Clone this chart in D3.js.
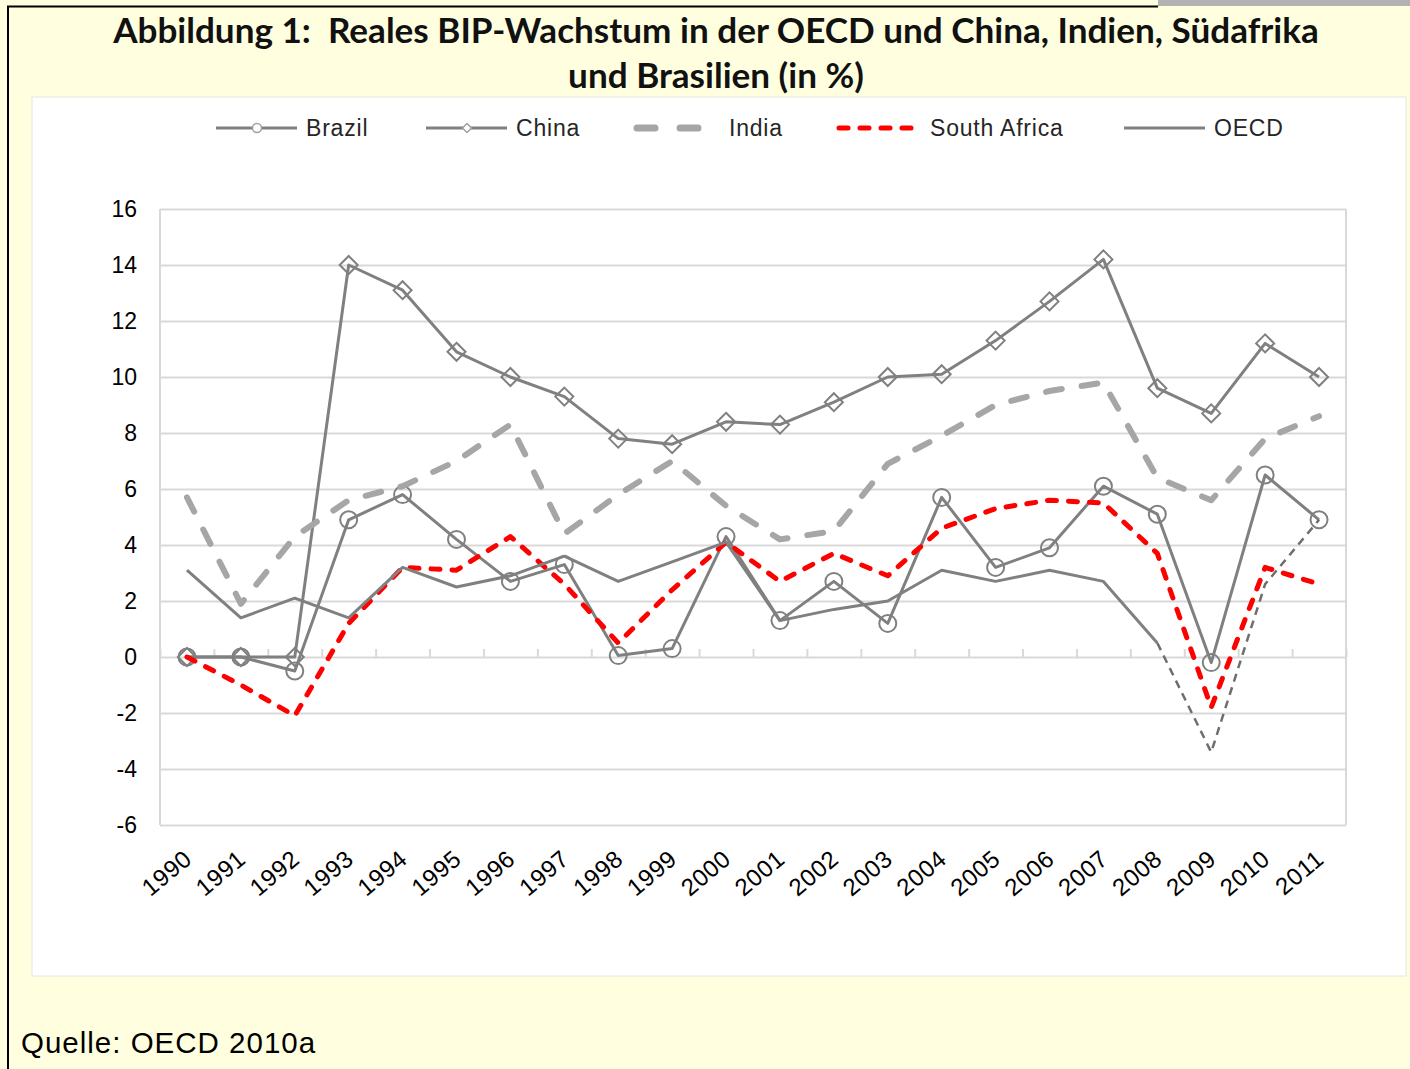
<!DOCTYPE html>
<html>
<head>
<meta charset="utf-8">
<script src="https://cdn.jsdelivr.net/npm/d3@7"></script>
<style>
  body { margin: 0; background: #ffffe0; }
  svg { display: block; }
</style>
</head>
<body>
<svg id="chart" width="1410" height="1069"></svg>
<script>
const years = ["1990","1991","1992","1993","1994","1995","1996","1997","1998","1999","2000",
               "2001","2002","2003","2004","2005","2006","2007","2008","2009","2010","2011"];
const brazil = [0, 0, -0.5, 4.9, 5.8, 4.2, 2.7, 3.3, 0.05, 0.3, 4.3, 1.3, 2.7, 1.2, 5.7, 3.2, 3.9, 6.1, 5.1, -0.2, 6.5, 4.9];
const china  = [0, 0, 0, 14.0, 13.1, 10.9, 10.0, 9.3, 7.8, 7.6, 8.4, 8.3, 9.1, 10.0, 10.1, 11.3, 12.7, 14.2, 9.6, 8.7, 11.2, 10.0];
const india  = [5.7, 1.9, 4.3, 5.6, 6.1, 7.0, 8.3, 4.4, 5.8, 7.0, 5.4, 4.2, 4.5, 6.9, 7.9, 9.0, 9.5, 9.8, 6.4, 5.6, 7.8, 8.6];
const southAfrica = [0, -1.0, -2.1, 1.2, 3.2, 3.1, 4.3, 2.6, 0.5, 2.4, 4.1, 2.7, 3.7, 2.9, 4.6, 5.3, 5.6, 5.5, 3.7, -1.8, 3.2, 2.6];
const oecd   = [3.1, 1.4, 2.1, 1.4, 3.2, 2.5, 2.9, 3.6, 2.7, 3.4, 4.1, 1.3, 1.7, 2.0, 3.1, 2.7, 3.1, 2.7, 0.5, -3.4, 2.6, 4.9];
const oecdProjectionFrom = "2008";   // thin dashed part of the OECD line
const yTicks = [-6, -4, -2, 0, 2, 4, 6, 8, 10, 12, 14, 16];

const titleLines = ["Abbildung 1:\u00a0 Reales BIP-Wachstum in der OECD und China, Indien, Südafrika",
                    "und Brasilien (in %)"];
const sourceText = "Quelle: OECD 2010a";

const svg = d3.select("#chart");
const W = 1410, H = 1069;
const labelFont = "'Liberation Sans', Arial, sans-serif";

// page background, border, grey corner
svg.append("rect").attr("width", W).attr("height", H).attr("fill", "#ffffe0");
svg.append("rect").attr("x", 1158).attr("y", 0).attr("width", W - 1158).attr("height", 6).attr("fill", "#b3b3b3");
svg.append("path").attr("d", "M8," + H + "V6.5H1158").attr("fill", "none").attr("stroke", "#000").attr("stroke-width", 2);

// title
let title = svg.append("g")
    .attr("font-family", "Lato, 'Open Sans', sans-serif")
    .attr("font-weight", "bold")
    .attr("fill", "#111")
    .attr("text-anchor", "middle");
title.selectAll("text").data(titleLines).enter().append("text")
    .attr("x", 716)
    .attr("y", (d, i) => 43 + i * 45)
    .attr("font-size", 31)
    .text(d => d);
// fit first line to its width in the picture, use the same size for both lines
let t0 = title.select("text").node();
let fs = 31 * 1206 / t0.getComputedTextLength();
title.selectAll("text").attr("font-size", fs);

// white chart area
svg.append("rect").attr("x", 32).attr("y", 97).attr("width", 1374).attr("height", 879)
    .attr("fill", "#fff").attr("stroke", "#e6e6e6").attr("stroke-width", 1);

// scales
const plotLeft = 160, plotRight = 1346, plotTop = 209, plotBottom = 825;
let x = d3.scaleBand().domain(years).range([plotLeft, plotRight]);
let xc = d => x(d) + x.bandwidth() / 2;
let y = d3.scaleLinear().domain([-6, 16]).range([plotBottom, plotTop]);

// y gridlines + labels
let yAxis = d3.axisLeft(y)
    .tickValues(yTicks)
    .tickSize(-(plotRight - plotLeft))
    .tickPadding(23)
    .tickFormat(d => String(d));

let gy = svg.append("g").attr("transform", "translate(" + plotLeft + ",0)").call(yAxis);
gy.select(".domain").remove();
gy.selectAll("line").attr("stroke", "#d9d9d9").attr("stroke-width", 2);
gy.selectAll("text")
    .attr("font-family", labelFont)
    .attr("font-size", 23)
    .attr("fill", "#000");

// plot border (vertical axis line and right edge)
svg.append("line").attr("x1", plotLeft).attr("x2", plotLeft).attr("y1", plotTop).attr("y2", plotBottom)
    .attr("stroke", "#d9d9d9").attr("stroke-width", 2);
svg.append("line").attr("x1", plotRight).attr("x2", plotRight).attr("y1", plotTop).attr("y2", plotBottom)
    .attr("stroke", "#d9d9d9").attr("stroke-width", 2);

// category tick marks on the zero line
let bounds = d3.scaleLinear().domain([0, years.length]).range([plotLeft, plotRight]);
let gt = svg.append("g").attr("transform", "translate(0," + y(0) + ")")
    .call(d3.axisTop(bounds).tickValues(d3.range(0, years.length + 1)).tickSize(8).tickFormat(""));
gt.select(".domain").remove();
gt.selectAll("line").attr("stroke", "#d9d9d9").attr("stroke-width", 2);

// x labels, rotated
let gx = svg.append("g").attr("transform", "translate(0," + plotBottom + ")")
    .call(d3.axisBottom(x).tickSize(0).tickPadding(0));
gx.select(".domain").remove();
gx.selectAll("text")
    .attr("font-family", labelFont)
    .attr("font-size", 24)
    .attr("letter-spacing", 0.6)
    .attr("fill", "#000")
    .attr("text-anchor", "end")
    .attr("x", 0).attr("y", 0).attr("dy", "0.35em")
    .attr("transform", "translate(1,30) rotate(-40)");

// lines
const grey = "#808080";
let line = d3.line().x(d => xc(d.year)).y(d => y(d.v));
let pts = arr => years.map((yr, i) => ({ year: yr, v: arr[i] }));

let plot = svg.append("g");

let series = [
  { name: "Brazil", data: pts(brazil), stroke: grey, width: 3, dash: null, cap: "butt", marker: "circle" },
  { name: "China", data: pts(china), stroke: grey, width: 3, dash: null, cap: "butt", marker: "diamond" },
  { name: "India", data: pts(india), stroke: "#a6a6a6", width: 6, dash: "16,20", cap: "round", marker: null },
  { name: "South Africa", data: pts(southAfrica), stroke: "#ff0000", width: 5, dash: "9,12", cap: "round", marker: null },
  { name: "OECD", data: pts(oecd), stroke: grey, width: 3, dash: null, cap: "butt", marker: null }
];

let cut = years.indexOf(oecdProjectionFrom);

series.forEach(s => {
  let d = s.data;
  if (s.name === "OECD") {
    plot.append("path").datum(d.slice(cut))
        .attr("fill", "none").attr("stroke", "#6e6e6e").attr("stroke-width", 2.5)
        .attr("stroke-dasharray", "8,6").attr("d", line);
    d = d.slice(0, cut + 1);
  }
  plot.append("path").datum(d)
      .attr("fill", "none")
      .attr("stroke", s.stroke)
      .attr("stroke-width", s.width)
      .attr("stroke-dasharray", s.dash)
      .attr("stroke-linecap", s.cap)
      .attr("stroke-linejoin", "round")
      .attr("d", line);
  if (s.marker === "circle") {
    plot.append("g").selectAll("circle").data(s.data).enter().append("circle")
        .attr("cx", p => xc(p.year)).attr("cy", p => y(p.v)).attr("r", 8.5)
        .attr("fill", "none").attr("stroke", grey).attr("stroke-width", 2);
  }
  if (s.marker === "diamond") {
    plot.append("g").selectAll("path").data(s.data).enter().append("path")
        .attr("d", "M0,-9L9,0L0,9L-9,0Z")
        .attr("transform", p => "translate(" + xc(p.year) + "," + y(p.v) + ")")
        .attr("fill", "none").attr("stroke", grey).attr("stroke-width", 2);
  }
});

// legend
const legendX = [216, 426, 637, 839, 1124];
let legend = svg.append("g").attr("font-family", labelFont)
    .attr("font-size", 23).attr("letter-spacing", 0.8).attr("fill", "#262626");
series.forEach((s, i) => {
  let lx = legendX[i], ly = 128;
  let g = legend.append("g").attr("transform", "translate(" + lx + "," + ly + ")");
  let len = s.name === "India" ? 66 : 81;
  g.append("line").attr("x1", 0).attr("x2", len).attr("y1", 0).attr("y2", 0)
      .attr("stroke", s.stroke)
      .attr("stroke-width", s.name === "India" ? 7 : s.width)
      .attr("stroke-dasharray", s.name === "India" ? "18,25" : (s.name === "South Africa" ? "9,12" : null))
      .attr("stroke-linecap", s.cap);
  if (s.marker === "circle") {
    g.append("circle").attr("cx", 41).attr("r", 4.5).attr("fill", "#fff").attr("stroke", "#a0a0a0").attr("stroke-width", 1.5);
  }
  if (s.marker === "diamond") {
    g.append("path").attr("d", "M41,-4.5L45.5,0L41,4.5L36.5,0Z").attr("fill", "#fff").attr("stroke", "#a0a0a0").attr("stroke-width", 1.5);
  }
  let tx = s.name === "India" ? 92 : (s.name === "South Africa" ? 91 : 90);
  g.append("text").attr("x", tx).attr("y", 0).attr("dy", "0.35em").text(s.name);
});

// source
svg.append("text").attr("x", 21).attr("y", 1053)
    .attr("font-family", labelFont)
    .attr("font-size", 29.5).attr("letter-spacing", 1).attr("fill", "#000")
    .text(sourceText);
</script>
</body>
</html>
